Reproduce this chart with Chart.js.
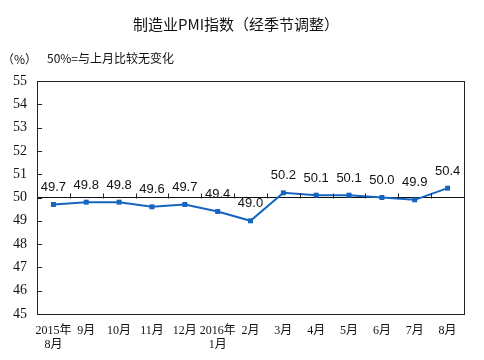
<!DOCTYPE html>
<html>
<head>
<meta charset="utf-8">
<script src="https://cdn.jsdelivr.net/npm/chart.js@4/dist/chart.umd.min.js"></script>
<style>
  html, body { margin: 0; padding: 0; background: #fff; }
  #wrap { width: 484px; height: 360px; }
</style>
</head>
<body>
<div id="wrap"><canvas id="pmiChart" width="484" height="360"></canvas></div>
<script>
// month labels (two lines where the year is shown)
var months = [['2015年', '8月'], '9月', '10月', '11月', '12月', ['2016年', '1月'], '2月', '3月', '4月', '5月', '6月', '7月', '8月'];
var pmi = [49.7, 49.8, 49.8, 49.6, 49.7, 49.4, 49.0, 50.2, 50.1, 50.1, 50.0, 49.9, 50.4];
var yTicks = [45, 46, 47, 48, 49, 50, 51, 52, 53, 54, 55];

var titleText = '制造业PMI指数（经季节调整）';
var unitText = '（%）';
var noteText = '50%=与上月比较无变化';

var lineBlue = '#1565c0';

// title, frame, inward ticks and value labels
var decorPlugin = {
  id: 'decor',
  afterDraw: function(chart) {
    var ctx = chart.ctx;
    var area = chart.chartArea;
    var xs = chart.scales.x;
    var ys = chart.scales.y;
    ctx.save();

    ctx.fillStyle = '#111';
    ctx.textBaseline = 'middle';
    ctx.textAlign = 'center';
    ctx.font = '15px "Noto Sans CJK SC", sans-serif';
    ctx.fillText(titleText, 236, 24);

    ctx.textAlign = 'left';
    ctx.font = '12px "Noto Sans CJK SC", sans-serif';
    ctx.fillText(unitText, 2, 59);
    ctx.fillText(noteText, 47, 58);

    // frame
    ctx.strokeStyle = '#222';
    ctx.lineWidth = 1;
    ctx.strokeRect(Math.round(area.left) + 0.5, Math.round(area.top) + 0.5,
      Math.round(area.right - area.left), Math.round(area.bottom - area.top));

    // y ticks pointing inward
    ctx.beginPath();
    yTicks.forEach(function(v) {
      var py = Math.round(ys.getPixelForValue(v)) + 0.5;
      ctx.moveTo(area.left, py);
      ctx.lineTo(area.left + 5, py);
    });
    // x ticks on the 50 line, at category boundaries
    var y50 = Math.round(ys.getPixelForValue(50)) + 0.5;
    for (var i = 1; i < months.length; i++) {
      var bx = Math.round((xs.getPixelForValue(i - 1) + xs.getPixelForValue(i)) / 2) + 0.5;
      ctx.moveTo(bx, y50);
      ctx.lineTo(bx, y50 - 5);
    }
    ctx.stroke();

    // value labels
    var meta = chart.getDatasetMeta(0);
    ctx.fillStyle = '#111';
    ctx.textAlign = 'center';
    ctx.textBaseline = 'middle';
    ctx.font = '13px "Liberation Sans", Arial, sans-serif';
    meta.data.forEach(function(pt, idx) {
      ctx.fillText(pmi[idx].toFixed(1), pt.x, pt.y - 17);
    });
    ctx.restore();
  }
};

var ctx = document.getElementById('pmiChart').getContext('2d');
var chart = new Chart(ctx, {
  type: 'line',
  data: {
    labels: months,
    datasets: [{
      data: pmi,
      borderColor: lineBlue,
      backgroundColor: lineBlue,
      borderWidth: 2,
      pointStyle: 'rect',
      pointRadius: 3.5,
      pointBorderWidth: 0,
      tension: 0
    }]
  },
  options: {
    responsive: false,
    animation: false,
    layout: { padding: { left: 0, right: 20, top: 81, bottom: 0 } },
    plugins: {
      legend: { display: false },
      tooltip: { enabled: false }
    },
    scales: {
      x: {
        offset: true,
        grid: { display: false, drawTicks: false },
        border: { display: false },
        afterFit: function(scale) { scale.height = 46; },
        ticks: {
          maxRotation: 0,
          autoSkip: false,
          padding: 10,
          color: '#111',
          font: { family: '"Liberation Serif", "Noto Sans CJK SC", serif', size: 12, lineHeight: 1.15 }
        }
      },
      y: {
        min: 45,
        max: 55,
        afterFit: function(scale) { scale.width = 37; },
        afterBuildTicks: function(scale) {
          scale.ticks = yTicks.map(function(v) { return { value: v }; });
        },
        grid: {
          drawTicks: false,
          color: function(c) { return c.tick && c.tick.value === 50 ? '#111' : 'rgba(0,0,0,0)'; },
          lineWidth: 1
        },
        border: { display: false },
        ticks: {
          padding: 10,
          color: '#111',
          font: { family: '"Liberation Serif", "Times New Roman", serif', size: 14 }
        }
      }
    }
  },
  plugins: [decorPlugin]
});
</script>
</body>
</html>
